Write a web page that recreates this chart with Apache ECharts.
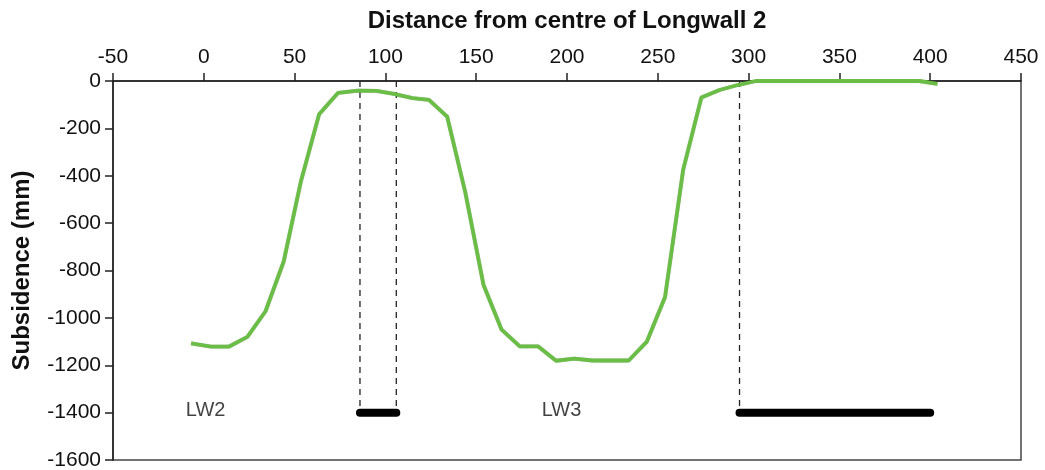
<!DOCTYPE html>
<html>
<head>
<meta charset="utf-8">
<script src="https://cdn.jsdelivr.net/npm/echarts@6/dist/echarts.min.js"></script>
<style>
  html, body { margin: 0; padding: 0; background: #fff; }
  #chart { width: 1045px; height: 470px; }
</style>
</head>
<body>
<div id="chart"></div>
<script>
// Surveyed subsidence profile across the panels
const distance = [-7, 4, 14, 24, 34, 44, 53.5, 63.5, 74, 85, 95, 104, 115, 124, 134, 144, 154, 164, 174, 184, 194, 204, 214, 224, 234, 244, 254, 264, 274, 284, 294, 304, 394, 404];
const subsidence = [-1108, -1121, -1121, -1080, -972, -762, -423, -140, -50, -41, -42, -53, -72, -80, -150, -470, -860, -1050, -1120, -1120, -1181, -1172, -1180, -1180, -1180, -1100, -912, -374, -70, -38, -17, 0, 0, -12];

// Panel edges (dashed verticals) and extents of the black bars
const panelEdges = [86, 106, 295];
const barLevel = -1400;
const lw2Bar = [86, 106];
const lw3Bar = [295, 400];

// Panel names and where they sit
const panelNames = ['LW2', 'LW3'];
const panelNameX = [1, 197];
const panelNameY = -1390;

const xTicks = { min: -50, max: 450, interval: 50 };
const yTicks = { min: -1600, max: 0, interval: 200 };

const font = '"Liberation Sans", Arial, sans-serif';
const chart = echarts.init(document.getElementById('chart'));

const profile = distance.map((d, i) => [d, subsidence[i]]);

const edgeSeries = panelEdges.map(x => ({
  type: 'line',
  data: [[x, 0], [x, barLevel]],
  symbol: 'none',
  silent: true,
  lineStyle: { color: '#222', width: 1.3, type: [6, 5] },
  z: 2
}));

const barSeries = [lw2Bar, lw3Bar].map(b => ({
  type: 'line',
  data: [[b[0], barLevel], [b[1], barLevel]],
  symbol: 'none',
  silent: true,
  lineStyle: { color: '#000', width: 8, cap: 'round' },
  z: 3
}));

const axisLineStyle = { color: '#222', width: 1.5 };

chart.setOption({
  animation: false,
  grid: {
    left: 113, right: 24, top: 81, bottom: 10,
    containLabel: false,
    outerBoundsMode: 'none',
    show: true, borderColor: '#444', borderWidth: 1.5
  },
  xAxis: {
    type: 'value',
    position: 'top',
    min: xTicks.min, max: xTicks.max, interval: xTicks.interval,
    name: 'Distance from centre of Longwall 2',
    nameLocation: 'middle',
    nameGap: 48,
    nameTextStyle: { fontFamily: font, fontSize: 24, fontWeight: 'bold', color: '#111' },
    axisLine: { show: true, onZero: false, lineStyle: axisLineStyle },
    axisTick: { show: true, length: 8, lineStyle: axisLineStyle },
    axisLabel: { fontFamily: font, fontSize: 21, color: '#111', margin: 13 },
    splitLine: { show: false }
  },
  yAxis: {
    type: 'value',
    min: yTicks.min, max: yTicks.max, interval: yTicks.interval,
    name: 'Subsidence (mm)',
    nameLocation: 'middle',
    nameGap: 79,
    nameTextStyle: { fontFamily: font, fontSize: 24, fontWeight: 'bold', color: '#111' },
    axisLine: { show: true, onZero: false, lineStyle: axisLineStyle },
    axisTick: { show: true, length: 8, lineStyle: axisLineStyle },
    axisLabel: { fontFamily: font, fontSize: 21, color: '#111', margin: 12, formatter: v => String(v) },
    splitLine: { show: false }
  },
  series: [
    ...edgeSeries,
    ...barSeries,
    {
      type: 'line',
      data: profile,
      symbol: 'none',
      silent: true,
      lineStyle: { color: '#6abd45', width: 3.8, shadowColor: 'rgba(0,0,0,0.25)', shadowBlur: 1 },
      z: 4
    },
    {
      type: 'scatter',
      data: panelNames.map((n, i) => ({ name: n, value: [panelNameX[i], panelNameY] })),
      symbolSize: 0,
      silent: true,
      label: {
        show: true,
        position: 'inside',
        formatter: p => p.name,
        fontFamily: font,
        fontSize: 20,
        color: '#111'
      },
      z: 5
    }
  ]
});
</script>
</body>
</html>
